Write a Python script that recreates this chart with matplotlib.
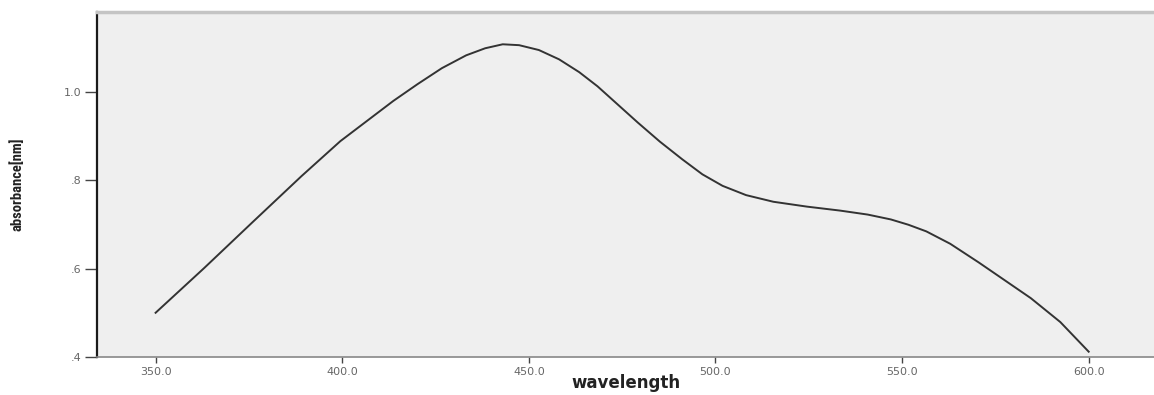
import matplotlib
matplotlib.use("Agg")
import matplotlib.pyplot as plt
from matplotlib import font_manager

wavelength = [350.0, 363.0, 376.0, 389.1, 399.5, 407.3, 413.7, 420.2, 426.7, 433.2,
              438.3, 443.0, 447.4, 452.7, 458.1, 463.5, 468.4, 473.8, 479.2, 485.1,
              491.1, 496.5, 501.9, 508.2, 515.5, 524.5, 533.4, 540.8, 547.0, 551.7,
              556.5, 562.9, 570.5, 576.9, 584.5, 592.4, 600.0]
absorbance = [0.500, 0.601, 0.705, 0.809, 0.888, 0.938, 0.979, 1.017, 1.053, 1.082,
              1.098, 1.107, 1.105, 1.094, 1.073, 1.044, 1.012, 0.971, 0.930, 0.887,
              0.847, 0.813, 0.787, 0.766, 0.751, 0.740, 0.731, 0.722, 0.711, 0.699,
              0.684, 0.656, 0.614, 0.577, 0.533, 0.479, 0.412]

xticks = [350, 400, 450, 500, 550, 600]
xtick_labels = ["350.0", "400.0", "450.0", "500.0", "550.0", "600.0"]
yticks = [0.4, 0.6, 0.8, 1.0]
ytick_labels = [".4", ".6", ".8", "1.0"]

# pick a narrow font for the y label if one is installed
narrow = None
for f in font_manager.fontManager.ttflist:
    if "Narrow" in f.name or "Condensed" in f.name:
        narrow = f.name
        if "Liberation" in f.name:
            break
ylab_family = [narrow, "Liberation Sans", "DejaVu Sans"] if narrow else ["Liberation Sans", "DejaVu Sans"]

fig = plt.figure(figsize=(11.54, 3.95), dpi=100)
ax = fig.add_axes([97/1154, 1 - 357/395, 1 - 97/1154, (357 - 12)/395])
ax.set_facecolor("#efefef")
ax.plot(wavelength, absorbance, color="#333333", lw=1.4, solid_joinstyle="round")

ax.set_xlim(334.3, 617.5)
ax.set_ylim(0.4, 1.18)
ax.set_xticks(xticks)
ax.set_xticklabels(xtick_labels)
ax.set_yticks(yticks)
ax.set_yticklabels(ytick_labels)

ax.spines["right"].set_visible(False)
ax.spines["left"].set_color("#1a1a1a")
ax.spines["left"].set_linewidth(1.6)
ax.spines["bottom"].set_color("#888888")
ax.spines["bottom"].set_linewidth(1.2)
ax.spines["top"].set_color("#c4c4c4")
ax.spines["top"].set_linewidth(2.5)

ax.tick_params(axis="y", direction="out", length=9, width=1, color="#444444",
               labelsize=8, labelcolor="#666666", pad=2)
ax.tick_params(axis="x", direction="out", length=4, width=1, color="#444444",
               labelsize=8, labelcolor="#666666", pad=3)

ax.set_xlabel("wavelength", fontsize=12, fontweight="bold", color="#222222", va="center")
ax.xaxis.set_label_coords(0.5, -0.076)
ax.set_ylabel("absorbance[nm]", fontsize=10.5, fontweight="bold", color="#222222",
              family=ylab_family, va="center")
ax.yaxis.set_label_coords(-0.0757, 0.5)

fig.savefig("out.png", dpi=100)
